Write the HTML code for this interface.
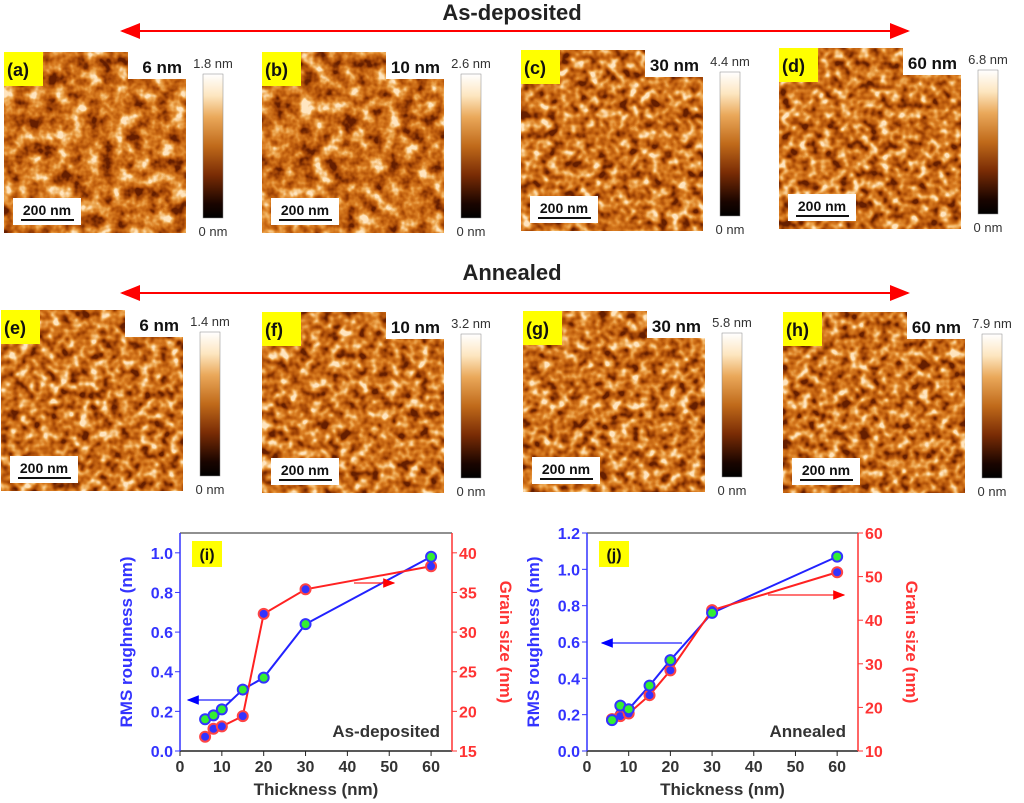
<!DOCTYPE html>
<html><head><meta charset="utf-8"><style>
body{margin:0;background:#fff;width:1024px;height:803px;overflow:hidden;font-family:"Liberation Sans",sans-serif}
svg{display:block}
</style></head><body>
<svg id="fig" width="1024" height="803" viewBox="0 0 1024 803" xmlns="http://www.w3.org/2000/svg">
<defs>
<filter id="afm" x="0" y="0" width="100%" height="100%" color-interpolation-filters="sRGB">
<feTurbulence type="fractalNoise" baseFrequency="0.07" numOctaves="3" seed="3"/>
<feColorMatrix type="matrix" values="1.9 0 0 0 -0.45  1.9 0 0 0 -0.45  1.9 0 0 0 -0.45  0 0 0 0 1"/>
<feComponentTransfer>
<feFuncR type="table" tableValues="0.4 0.62 0.76 0.86 0.94 1"/>
<feFuncG type="table" tableValues="0.12 0.26 0.38 0.5 0.68 0.9"/>
<feFuncB type="table" tableValues="0 0.02 0.06 0.14 0.35 0.75"/>
</feComponentTransfer>
</filter>
<filter id="afm2" x="0" y="0" width="100%" height="100%" color-interpolation-filters="sRGB">
<feTurbulence type="fractalNoise" baseFrequency="0.1" numOctaves="2" seed="7"/>
<feColorMatrix type="matrix" values="2.0 0 0 0 -0.5  2.0 0 0 0 -0.5  2.0 0 0 0 -0.5  0 0 0 0 1"/>
<feComponentTransfer>
<feFuncR type="table" tableValues="0.4 0.62 0.76 0.86 0.94 1"/>
<feFuncG type="table" tableValues="0.12 0.26 0.38 0.5 0.68 0.9"/>
<feFuncB type="table" tableValues="0 0.02 0.06 0.14 0.35 0.75"/>
</feComponentTransfer>
</filter>
<linearGradient id="cb" x1="0" y1="1" x2="0" y2="0">
<stop offset="0" stop-color="#000"/><stop offset="0.1" stop-color="#1a0500"/>
<stop offset="0.3" stop-color="#7a2c05"/><stop offset="0.5" stop-color="#c06a1a"/>
<stop offset="0.7" stop-color="#eaa85a"/><stop offset="0.85" stop-color="#fde6c0"/>
<stop offset="1" stop-color="#fff"/></linearGradient>
<marker id="ahR" markerWidth="10" markerHeight="8" refX="9" refY="4" orient="auto"><path d="M0,0 L10,4 L0,8z" fill="#f00"/></marker>
<marker id="ahRs" markerWidth="10" markerHeight="8" refX="9" refY="4" orient="auto-start-reverse"><path d="M0,0 L10,4 L0,8z" fill="#f00"/></marker>
<marker id="ahB" markerWidth="10" markerHeight="8" refX="9" refY="4" orient="auto"><path d="M0,0 L10,4 L0,8z" fill="#00f"/></marker>
</defs>
<g id="top" font-weight="bold">
<text x="512" y="20" font-size="22" text-anchor="middle" fill="#222">As-deposited</text>
<line x1="122" y1="31" x2="908" y2="31" stroke="#f00" stroke-width="2" marker-start="url(#ahRs)" marker-end="url(#ahR)"/>
<text x="512" y="280" font-size="22" text-anchor="middle" fill="#222">Annealed</text>
<line x1="122" y1="293" x2="908" y2="293" stroke="#f00" stroke-width="2" marker-start="url(#ahRs)" marker-end="url(#ahR)"/>
</g>
<g id="panels"></g>
<g id="charts"></g>
</svg>
<script>
const NS='http://www.w3.org/2000/svg';
function mk(tag,attrs,parent,text){const e=document.createElementNS(NS,tag);for(const k in attrs)e.setAttribute(k,attrs[k]);if(text!==undefined)e.textContent=text;parent.appendChild(e);return e;}
const panelLabels=['(a)','(b)','(c)','(d)','(e)','(f)','(g)','(h)'];
const panelThick=['6 nm','10 nm','30 nm','60 nm','6 nm','10 nm','30 nm','60 nm'];
const panelMax=['1.8 nm','2.6 nm','4.4 nm','6.8 nm','1.4 nm','3.2 nm','5.8 nm','7.9 nm'];
const px=[4,262,521,779,1,262,523,783], py=[52,52,50,48,310,312,311,312];
const P=document.getElementById('panels');
for(let i=0;i<8;i++){
  const g=mk('g',{},P);
  
  
  const x=px[i],y=py[i],w=182,h=181;
  const img=mk('rect',{x:x,y:y,width:w,height:h,filter:(i<2)?'url(#afm)':'url(#afm2)'},g);
  
  
  mk('rect',{x:x+w-58,y:y,width:58,height:27,fill:'#fff'},g);
  const t=mk('text',{x:x+w-4,y:y+21,'font-size':17,'font-weight':'bold','text-anchor':'end',fill:'#111'},g,panelThick[i]);
  
  
  mk('rect',{x:x,y:y,width:39,height:34,fill:'#ff0'},g);
  const l=mk('text',{x:x+3,y:y+24,'font-size':18,'font-weight':'bold',fill:'#111'},g,panelLabels[i]);
  
  
  mk('rect',{x:x+9,y:y+146,width:68,height:27,fill:'#fff'},g);
  const sb=mk('text',{x:x+43,y:y+163,'font-size':14,'font-weight':'bold','text-anchor':'middle',fill:'#111'},g,'200 nm');
  
  
  mk('line',{x1:x+17,y1:y+168,x2:x+70,y2:y+168,stroke:'#111','stroke-width':2},g);
  const cx=x+w+17,cy=y+22;
  const cbr=mk('rect',{x:cx,y:cy,width:20,height:144,fill:'url(#cb)',stroke:'#888','stroke-width':0.5},g);
  
  
  mk('text',{x:cx+10,y:cy-6,'font-size':13,'text-anchor':'middle',fill:'#333'},g,panelMax[i]);
  mk('text',{x:cx+10,y:cy+162,'font-size':13,'text-anchor':'middle',fill:'#333'},g,'0 nm');
}

// ---------- chart data ----------
const thickness=[6,8,10,15,20,30,60];
const rmsAsDep=[0.16,0.18,0.21,0.31,0.37,0.64,0.98];
const grainAsDep=[16.8,17.8,18.1,19.4,32.3,35.4,38.3];
const rmsAnn=[0.17,0.25,0.23,0.36,0.50,0.76,1.07];
const grainAnn=[17.3,18.0,18.6,22.8,28.5,42.3,51.0];
const xTicks=[0,10,20,30,40,50,60];
const yTicksI=[0,0.2,0.4,0.6,0.8,1.0], y2TicksI=[15,20,25,30,35,40];
const yTicksJ=[0,0.2,0.4,0.6,0.8,1.0,1.2], y2TicksJ=[10,20,30,40,50,60];

const C=document.getElementById('charts');
function chart(o){
  const g=mk('g',{'font-weight':'bold'},C);
  
  
  const X=v=>o.x0+(v-0)/65*(o.x1-o.x0);
  const Y=v=>o.yb-(v-o.ymin)/(o.ymax-o.ymin)*(o.yb-o.yt);
  const Y2=v=>o.yb-(v-o.y2min)/(o.y2max-o.y2min)*(o.yb-o.yt);
  mk('line',{x1:o.x0,y1:o.yt,x2:o.x1,y2:o.yt,stroke:'#222'},g);
  mk('line',{x1:o.x0,y1:o.yb,x2:o.x1,y2:o.yb,stroke:'#222','stroke-width':1.5},g);
  mk('line',{x1:o.x0,y1:o.yt,x2:o.x0,y2:o.yb,stroke:'#33f','stroke-width':1.5},g);
  mk('line',{x1:o.x1,y1:o.yt,x2:o.x1,y2:o.yb,stroke:'#f33','stroke-width':1.5},g);
  xTicks.forEach(v=>{mk('line',{x1:X(v),y1:o.yb,x2:X(v),y2:o.yb+5,stroke:'#222'},g);
    const t=mk('text',{x:X(v),y:o.yb+21,'font-size':16,'text-anchor':'middle',fill:'#333'},g,v);
    });
  o.yt1.forEach(v=>{mk('line',{x1:o.x0,y1:Y(v),x2:o.x0-5,y2:Y(v),stroke:'#33f'},g);
    const t=mk('text',{x:o.x0-7,y:Y(v)+6,'font-size':16,'text-anchor':'end',fill:'#33f'},g,v.toFixed(1));
    });
  o.yt2.forEach(v=>{mk('line',{x1:o.x1,y1:Y2(v),x2:o.x1+5,y2:Y2(v),stroke:'#f33'},g);
    const t=mk('text',{x:o.x1+7,y:Y2(v)+6,'font-size':16,fill:'#f33'},g,v);
    });
  const xt=mk('text',{x:(o.x0+o.x1)/2,y:o.yb+44,'font-size':17,'text-anchor':'middle',fill:'#333'},g,'Thickness (nm)');
  
  const yt=mk('text',{transform:`translate(${o.x0-48},${(o.yt+o.yb)/2}) rotate(-90)`,'font-size':17,'text-anchor':'middle',fill:'#33f'},g,'RMS roughness (nm)');
  
  const y2t=mk('text',{transform:`translate(${o.x1+48},${(o.yt+o.yb)/2}) rotate(90)`,'font-size':17,'text-anchor':'middle',fill:'#f33'},g,'Grain size (nm)');
  
  mk('rect',{x:o.x0+12,y:o.yt+8,width:30,height:26,fill:'#ff0'},g);
  mk('text',{x:o.x0+27,y:o.yt+27,'font-size':16,'text-anchor':'middle',fill:'#111'},g,o.tag);
  const lbl=mk('text',{x:o.x1-12,y:o.yb-14,'font-size':17,'text-anchor':'end',fill:'#333'},g,o.label);
  
  const rl=mk('polyline',{points:thickness.map((t,i)=>X(t)+','+Y(o.rms[i])).join(' '),fill:'none',stroke:'#22f','stroke-width':2},g);
  
  const gl=mk('polyline',{points:thickness.map((t,i)=>X(t)+','+Y2(o.grain[i])).join(' '),fill:'none',stroke:'#f22','stroke-width':2},g);
  
  o.grain.forEach((v,i)=>{const c=mk('circle',{cx:X(thickness[i]),cy:Y2(v),r:5,fill:'#33f',stroke:'#f44','stroke-width':2},g);
    });
  o.rms.forEach((v,i)=>{const c=mk('circle',{cx:X(thickness[i]),cy:Y(v),r:5,fill:'#3e3',stroke:'#33f','stroke-width':2},g);
    });
  mk('line',{x1:o.ba[0],y1:o.ba[1],x2:o.ba[2],y2:o.ba[1],stroke:'#22f','stroke-width':1.2,'marker-end':'url(#ahB)'},g);
  mk('line',{x1:o.ra[0],y1:o.ra[1],x2:o.ra[2],y2:o.ra[1],stroke:'#f22','stroke-width':1.2,'marker-end':'url(#ahR)'},g);
}
chart({name:'chart-i-as-deposited',tag:'(i)',label:'As-deposited',x0:180,x1:452,yt:533,yb:751,ymin:0,ymax:1.1,y2min:15,y2max:42.5,
  yt1:yTicksI,yt2:y2TicksI,rms:rmsAsDep,grain:grainAsDep,ba:[232,700,188],ra:[354,583,394]});
chart({name:'chart-j-annealed',tag:'(j)',label:'Annealed',x0:587,x1:858,yt:533,yb:751,ymin:0,ymax:1.2,y2min:10,y2max:60,
  yt1:yTicksJ,yt2:y2TicksJ,rms:rmsAnn,grain:grainAnn,ba:[682,643,602],ra:[768,595,844]});
</script>
</body></html>
